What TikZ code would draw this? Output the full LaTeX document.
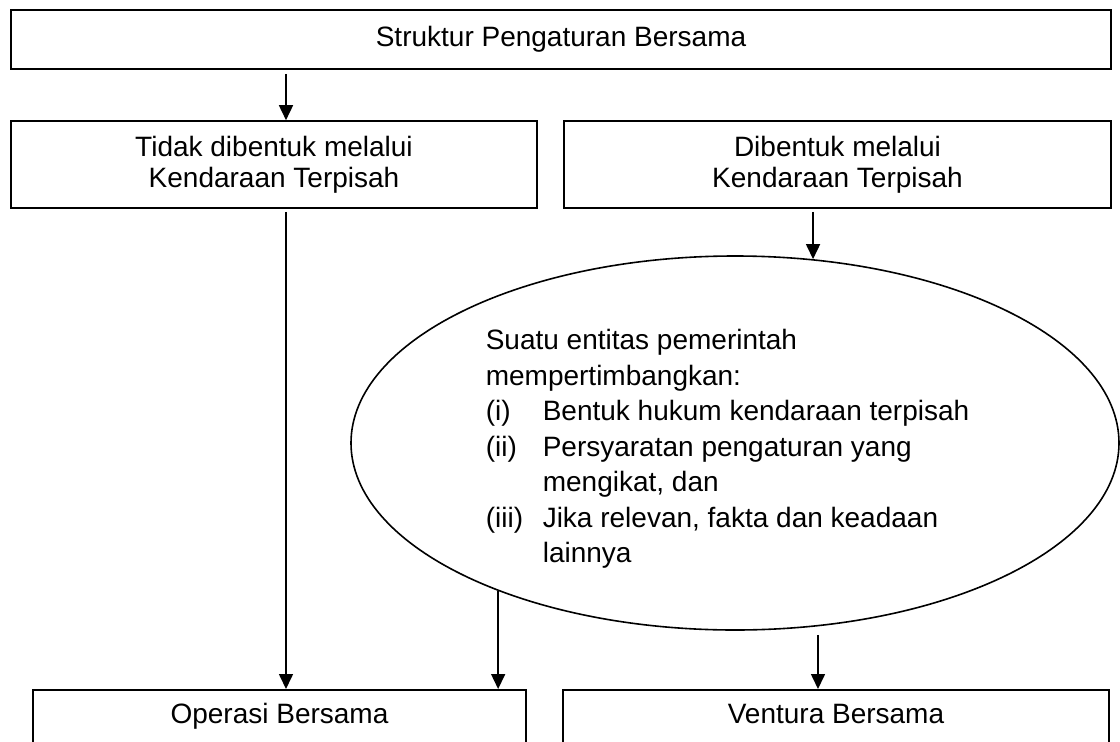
\documentclass[tikz,border=0pt]{standalone}
\usepackage{fontspec}
\setmainfont{Liberation Sans}
\usetikzlibrary{shapes.geometric,arrows.meta}

\begin{document}
\begin{tikzpicture}[x=1pt,y=-1pt,line width=1.6pt,
    box/.style={draw,rectangle,inner sep=0pt,align=center,font=\fontsize{28}{31}\selectfont},
    lowbox/.style={draw,rectangle,inner sep=0pt,anchor=north,text height=34pt,text depth=40pt,font=\fontsize{28}{31}\selectfont},
    arr/.style={-{Triangle[length=15pt,width=14pt]}}]
      \pgfmathsetmacro{\yb}{689}

      \useasboundingbox (0,0) rectangle (1120,742);
      \clip (0,0) rectangle (1120,742);

      \coordinate (xl) at (286,0);
      \coordinate (xr) at (818,0);

      \node[box,minimum width=1100pt,minimum height=59pt] (top) at (561,39.5) {Struktur Pengaturan Bersama};
      \node[box,minimum width=526pt,minimum height=87pt] (lbox) at (274,164.5) {Tidak dibentuk melalui\\Kendaraan Terpisah};
      \node[box,minimum width=547pt,minimum height=87pt] (rbox) at (837.5,164.5) {Dibentuk melalui\\Kendaraan Terpisah};

      \node[draw,ellipse,inner sep=0pt,minimum width=768pt,minimum height=374pt] (ell) at (735,443) {};
      \node[anchor=north west,inner sep=0pt,font=\fontsize{28}{35.5}\selectfont] (crit) at (485,324) {%
        \begin{tabular}{@{}p{57pt}@{}l@{}}
          \multicolumn{2}{@{}l@{}}{Suatu entitas pemerintah}\\
          \multicolumn{2}{@{}l@{}}{mempertimbangkan:}\\
          (i) & Bentuk hukum kendaraan terpisah\\
          (ii) & Persyaratan pengaturan yang\\
               & mengikat, dan\\
          (iii) & Jika relevan, fakta dan keadaan\\
                & lainnya
        \end{tabular}};

      \node[lowbox,minimum width=493pt] (obox) at (279.5,\yb) {Operasi Bersama};
      \node[lowbox,minimum width=546pt] (vbox) at (836,\yb) {Ventura Bersama};

      \draw[arr,shorten <=4pt] (top.south -| xl) -- (lbox.north -| xl);
      \draw[arr,shorten <=3pt] (lbox.south -| xl) -- (obox.north -| xl);
      \draw[arr,shorten <=3pt] (rbox.south -| ell.67) -- (ell.67);
      \draw[arr] (ell.212) -- (ell.212 |- obox.north);
      \draw[arr,shorten <=4pt] (xr |- ell.south) -- (xr |- vbox.north);
    \end{tikzpicture}
\end{document}
